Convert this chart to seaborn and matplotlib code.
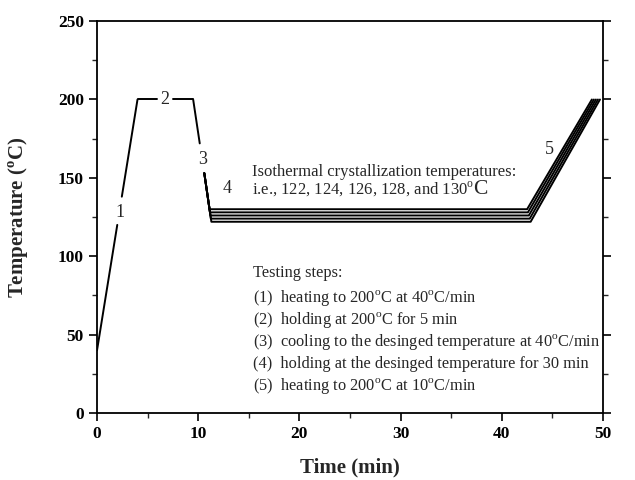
import numpy as np
import pandas as pd
import matplotlib
matplotlib.use("Agg")
import matplotlib.pyplot as plt
import seaborn as sns
from matplotlib.ticker import MultipleLocator

# ---- data ----
iso_temps = [122, 124, 126, 128, 130]
hold_start = [11.30, 11.25, 11.21, 11.16, 11.12]
hold_end = [42.85, 42.76, 42.67, 42.58, 42.50]
end_time = [49.7, 49.5, 49.3, 49.1, 48.9]
heat1_lo_t, heat1_lo_T = [0.0, 2.0], [40, 120]
heat1_hi_t, heat1_hi_T = [2.45, 4.0], [138, 200]
hold1a_t, hold1b_t = [4.0, 5.9], [7.5, 9.5]
hold_T = 200
cool_hi_t, cool_hi_T = [9.5, 10.15], [200, 172]
cool_lo_t0, cool_lo_T0 = 10.6, 153
final_T = 200

rows = []
def add(seg, ts, Ts):
    for t, T in zip(ts, Ts):
        rows.append({"seg": seg, "t": t, "T": T})

add("h1a", heat1_lo_t, heat1_lo_T)
add("h1b", heat1_hi_t, heat1_hi_T)
add("s2a", hold1a_t, [hold_T, hold_T])
add("s2b", hold1b_t, [hold_T, hold_T])
add("c3a", cool_hi_t, cool_hi_T)
for Ti, ts, te, tf in zip(iso_temps, hold_start, hold_end, end_time):
    add(f"iso{Ti}", [cool_lo_t0, ts, te, tf], [cool_lo_T0, Ti, Ti, final_T])
df = pd.DataFrame(rows)

sns.set_theme(style="ticks")
plt.rcParams["font.family"] = ["Liberation Serif", "DejaVu Serif"]
plt.rcParams["mathtext.fontset"] = "custom"
plt.rcParams["mathtext.rm"] = "Liberation Serif"
plt.rcParams["mathtext.bf"] = "Liberation Serif:bold"

fig = plt.figure(figsize=(6.35, 4.8), dpi=100)
ax = fig.add_axes([0.1528, 0.1396, 0.7968, 0.8164])

sns.lineplot(data=df, x="t", y="T", units="seg", estimator=None, sort=False,
             color="black", linewidth=1.4, ax=ax, legend=False)

ax.set_xlim(0, 50)
ax.set_ylim(0, 250)
ax.xaxis.set_major_locator(MultipleLocator(10))
ax.xaxis.set_minor_locator(MultipleLocator(5))
ax.yaxis.set_major_locator(MultipleLocator(50))
ax.yaxis.set_minor_locator(MultipleLocator(25))
ax.tick_params(which="major", direction="out", length=6, width=1.2,
               labelsize=12.5, colors="black", top=False, right=True)
ax.tick_params(which="minor", direction="out", length=3.5, width=1.0,
               top=False, right=True)
for lab in ax.get_xticklabels() + ax.get_yticklabels():
    lab.set_fontweight("bold")
for sp in ax.spines.values():
    sp.set_linewidth(1.3)
    sp.set_color("black")

ax.set_xlabel("Time (min)", fontsize=15, fontweight="bold", labelpad=11)
ax.set_ylabel(r"Temperature ($^{\mathbf{o}}$C)", fontsize=15, fontweight="bold", labelpad=19)

fs = 13
ax.text(2.27, 128, "1", fontsize=fs, ha="center", va="center")
ax.text(6.7, 200, "2", fontsize=fs, ha="center", va="center")
ax.text(10.43, 162, "3", fontsize=fs, ha="center", va="center")
ax.text(12.9, 143, "4", fontsize=fs, ha="center", va="center")
ax.text(44.7, 168, "5", fontsize=fs, ha="center", va="center")

ax.text(15.3, 154, "Isothermal crystallization temperatures:", fontsize=12, va="center")
t2 = ax.text(15.3, 142.5, r"i.e., 122, 124, 126, 128, and 130$^{\rm o}$", fontsize=12, va="center")
fig.canvas.draw()
bb = t2.get_window_extent(renderer=fig.canvas.get_renderer())
x_end = ax.transData.inverted().transform((bb.x1, bb.y0))[0]
ax.text(x_end - 0.1, 142.5, "C", fontsize=15.5, va="center")

steps = ["Testing steps:",
         r"(1)  heating to 200$^{\rm o}$C at 40$^{\rm o}$C/min",
         r"(2)  holding at 200$^{\rm o}$C for 5 min",
         r"(3)  cooling to the desinged temperature at 40$^{\rm o}$C/min",
         r"(4)  holding at the desinged temperature for 30 min",
         r"(5)  heating to 200$^{\rm o}$C at 10$^{\rm o}$C/min"]
step_T = [89.4, 73.5, 59.4, 45.4, 31.3, 17.3]
for s, y in zip(steps, step_T):
    ax.text(15.4, y, s, fontsize=11.8, va="center")

fig.savefig("out.png", dpi=100)
